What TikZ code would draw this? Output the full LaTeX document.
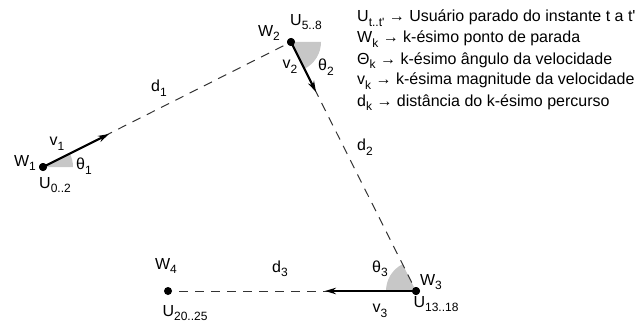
\documentclass[tikz,border=0pt]{standalone}
\usepackage{fontspec}
\setmainfont{Liberation Sans}
\usetikzlibrary{arrows.meta}
\newcommand{\lowsub}[1]{\raisebox{-4.5pt}{\fontsize{12}{12}\selectfont#1}}

\begin{document}
\begin{tikzpicture}[x=1pt, y=1pt, font=\fontsize{16}{19}\selectfont,
  dot/.style={circle, fill=black, inner sep=0pt, minimum size=8pt},
  lbl/.style={inner sep=0pt},
  route/.style={dashed, dash pattern=on 9pt off 7pt, line width=1pt, black!80},
  vel/.style={line width=2.2pt, -{Stealth[length=11pt, width=6.5pt]}},
  sector/.style={fill=black!22},
  legend/.style={anchor=base west, inner sep=0pt}]
\useasboundingbox (0,0) rectangle (642,322);

\node[dot] (w1) at (43,155) {};
\node[dot] (w2) at (291,280) {};
\node[dot] (w3) at (416,31) {};
\node[dot] (w4) at (168,31) {};
\coordinate (t1) at (109,188);
\coordinate (t2) at (316,230);
\coordinate (t3) at (325,31);

\fill[sector] (w1.center) -- ++(0:30pt) arc[start angle=0, end angle=26.75, radius=30pt] -- cycle;
\fill[sector] (w2.center) -- ++(0:30pt) arc[start angle=0, end angle=-63.35, radius=30pt] -- cycle;
\fill[sector] (w3.center) -- ++(116.65:30pt) arc[start angle=116.65, end angle=180, radius=30pt] -- cycle;

\draw[route] (w1) -- (w2);
\draw[route] (w2) -- (w3);
\draw[route] (w3) -- (w4);
\draw[vel] (w1.center) -- (t1);
\draw[vel] (w2.center) -- (t2);
\draw[vel] (w3.center) -- (t3);
\node[dot] at (w1) {};
\node[dot] at (w2) {};
\node[dot] at (w3) {};

\node[lbl] (lw1) at (25,159) {W\lowsub{1}};
\node[lbl] (lu1) at (55,137) {U\lowsub{0..2}};
\node[lbl] (lv1) at (57,178) {v\lowsub{1}};
\node[lbl] (la1) at (84,156) {θ\lowsub{1}};
\node[lbl] (lw2) at (269,289) {W\lowsub{2}};
\node[lbl] (lu2) at (306,300) {U\lowsub{5..8}};
\node[lbl] (lv2) at (290,255) {v\lowsub{2}};
\node[lbl] (la2) at (326,255) {θ\lowsub{2}};
\node[lbl] (lw3) at (431,40) {W\lowsub{3}};
\node[lbl] (lu3) at (436,18) {U\lowsub{13..18}};
\node[lbl] (lv3) at (380,11) {v\lowsub{3}};
\node[lbl] (la3) at (380,53) {θ\lowsub{3}};
\node[lbl] (lw4) at (166,56) {W\lowsub{4}};
\node[lbl] (lu4) at (185,9) {U\lowsub{20..25}};
\node[lbl] (ld1) at (159,234) {d\lowsub{1}};
\node[lbl] (ld2) at (365,175) {d\lowsub{2}};
\node[lbl] (ld3) at (280,53) {d\lowsub{3}};

\node[legend] (k1) at (357,300) {U\lowsub{t..t\textquotesingle} → Usuário parado do instante t a t\textquotesingle};
\node[legend] (k2) at (357,279) {W\lowsub{k} → k-ésimo ponto de parada};
\node[legend] (k3) at (357,258) {Θ\lowsub{k} → k-ésimo ângulo da velocidade};
\node[legend] (k4) at (357,237) {v\lowsub{k} → k-ésima magnitude da velocidade};
\node[legend] (k5) at (357,216) {d\lowsub{k} → distância do k-ésimo percurso};
\end{tikzpicture}
\end{document}
